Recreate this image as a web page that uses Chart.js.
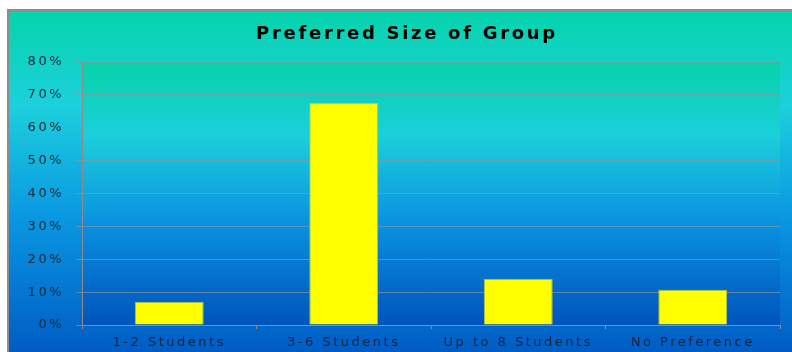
<!DOCTYPE html>
<html>
<head>
<meta charset="utf-8">
<script src="https://cdn.jsdelivr.net/npm/chart.js@4.4.1/dist/chart.umd.min.js"></script>
<style>
  html, body { margin: 0; padding: 0; background: #ffffff; }
  #wrap { width: 792px; height: 352px; }
</style>
</head>
<body>
<div id="wrap"><canvas id="c" width="792" height="352"></canvas></div>
<script>
// Survey: preferred group size (percent of respondents)
const categories = ['1-2 Students', '3-6 Students', 'Up to 8 Students', 'No Preference'];
const shares = [7.1, 67.6, 14.1, 10.7];
const yTicks = [0, 10, 20, 30, 40, 50, 60, 70, 80];
const chartTitle = 'Preferred Size of Group';

// Gradient frame behind the whole chart plus its own gradient in the plot area
const backdrop = {
  id: 'backdrop',
  beforeDraw(chart) {
    const ctx = chart.ctx;
    const W = chart.width, H = chart.height;
    const fx = 8, fy = 10;
    ctx.save();
    let g = ctx.createLinearGradient(0, fy, 0, H);
    g.addColorStop(0, '#06d4ab');
    g.addColorStop(0.28, '#1cd0dc');
    g.addColorStop(0.6, '#0a98e2');
    g.addColorStop(1, '#005cc4');
    ctx.fillStyle = g;
    ctx.fillRect(fx, fy, W - fx, H - fy);
    ctx.strokeStyle = '#8c8c8c';
    ctx.lineWidth = 2;
    ctx.beginPath();
    ctx.moveTo(fx, H);
    ctx.lineTo(fx, fy);
    ctx.lineTo(W, fy);
    ctx.stroke();

    const a = chart.chartArea;
    g = ctx.createLinearGradient(0, a.top, 0, a.bottom);
    g.addColorStop(0, '#05d3a8');
    g.addColorStop(0.28, '#1ccfdb');
    g.addColorStop(0.62, '#0990e0');
    g.addColorStop(1, '#0054bc');
    ctx.fillStyle = g;
    ctx.fillRect(a.left, a.top, a.right - a.left, a.bottom - a.top);
    ctx.restore();
    // wide-set lettering for the axis labels
    ctx.letterSpacing = '2.5px';
  },
  afterDraw(chart) {
    const ctx = chart.ctx;
    ctx.save();
    ctx.letterSpacing = '2.7px';
    ctx.font = 'bold 18px "DejaVu Sans"';
    ctx.fillStyle = '#000000';
    ctx.textAlign = 'center';
    ctx.textBaseline = 'middle';
    ctx.fillText(chartTitle, 407, 34);
    ctx.restore();
  }
};

new Chart(document.getElementById('c'), {
  type: 'bar',
  data: {
    labels: categories,
    datasets: [{
      data: shares,
      backgroundColor: '#ffff00',
      borderColor: '#b8c040',
      borderWidth: 1,
      categoryPercentage: 1,
      barPercentage: 0.395
    }]
  },
  options: {
    responsive: false,
    devicePixelRatio: 1,
    animation: false,
    layout: { padding: { left: 8, right: 12, top: 62, bottom: 0 } },
    plugins: {
      legend: { display: false },
      tooltip: { enabled: false },
      title: { display: false }
    },
    scales: {
      x: {
        afterFit(scale) { scale.height = 27; },
        grid: { drawOnChartArea: false, drawTicks: true, tickLength: 4, color: '#8c8c8c', offset: true },
        border: { display: true, color: '#8c8c8c', width: 1 },
        ticks: { color: '#0c2440', font: { family: 'DejaVu Sans', size: 13 }, padding: 6, maxRotation: 0 }
      },
      y: {
        min: 0,
        max: 80,
        afterFit(scale) { scale.width = 74; },
        afterBuildTicks(scale) { scale.ticks = yTicks.map(v => ({ value: v })); },
        grid: { color: 'rgba(140,150,160,0.65)', tickLength: 6, lineWidth: 1 },
        border: { display: true, color: '#8c8c8c', width: 1 },
        ticks: {
          color: '#0c2a34',
          font: { family: 'DejaVu Sans', size: 13 },
          padding: 12,
          callback: v => v + '%'
        }
      }
    }
  },
  plugins: [backdrop]
});
</script>
</body>
</html>
